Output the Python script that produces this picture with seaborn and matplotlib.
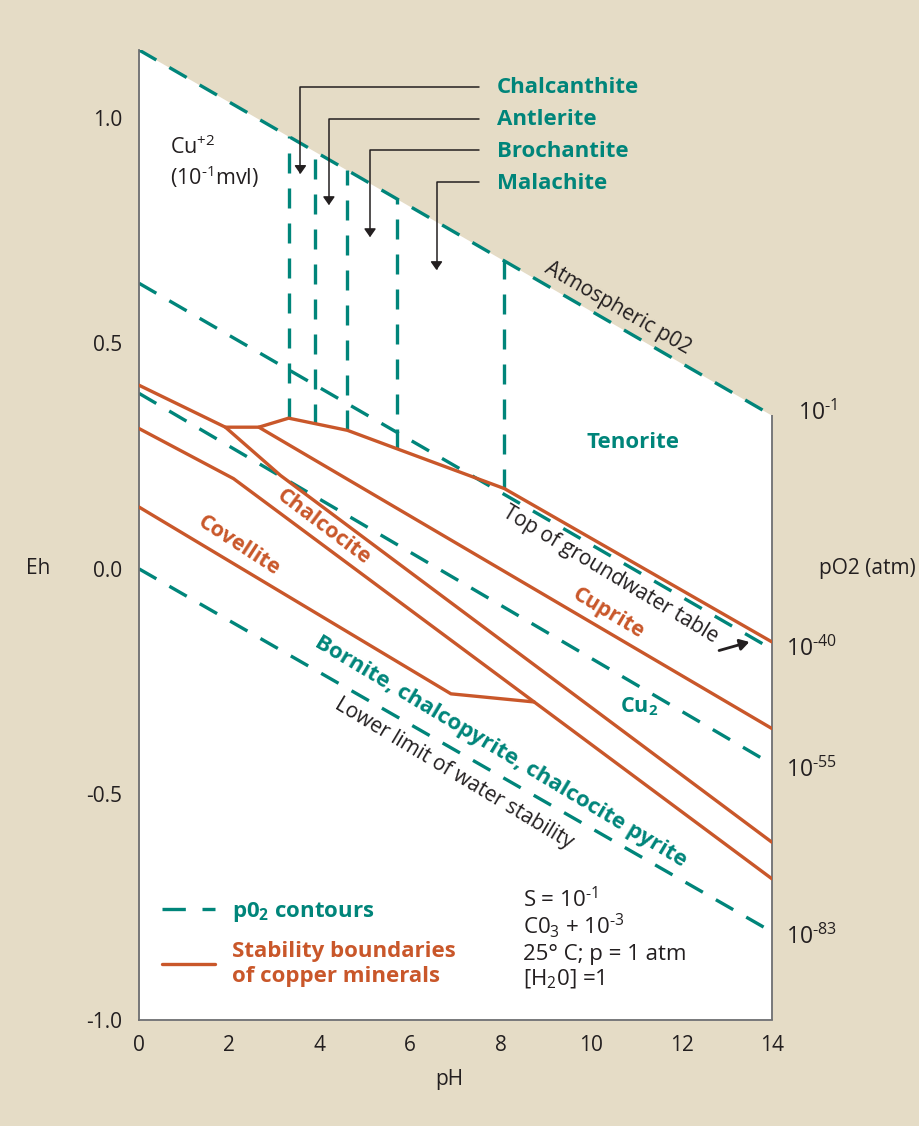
import numpy as np
import matplotlib
matplotlib.use("Agg")
import matplotlib.pyplot as plt
import seaborn as sns
from matplotlib.lines import Line2D

# ---- values (pH, Eh in volts) ----
atm_ph = [0, 14]
atm_eh = [1.15, 0.34]
groundwater_ph = [0, 14]
groundwater_eh = [0.633, -0.178]
contour55_ph = [0, 14]
contour55_eh = [0.389, -0.433]
contour83_ph = [0, 13.92]
contour83_eh = [0.0, -0.80]

tenorite_ph = [0, 1.91, 2.65, 3.31, 4.61, 5.71, 8.08, 14]
tenorite_eh = [0.407, 0.314, 0.314, 0.334, 0.307, 0.266, 0.178, -0.162]
cuprite_ph = [2.65, 14]
cuprite_eh = [0.314, -0.354]
chalcocite_ph = [1.91, 3.13, 14]
chalcocite_eh = [0.314, 0.207, -0.606]
lower_ph = [0, 2.09, 8.74, 14]
lower_eh = [0.311, 0.200, -0.295, -0.687]
covellite_ph = [0, 6.9, 8.74]
covellite_eh = [0.137, -0.277, -0.295]

# sulphate / carbonate field limits
field_ph = [3.31, 3.89, 4.61, 5.71, 8.08]
minerals = ["Chalcanthite", "Antlerite", "Brochantite", "Malachite"]
mineral_eh = [1.054, 0.983, 0.913, 0.843]
arrow_ph = [3.57, 4.20, 5.11, 6.58]
arrow_eh = [0.875, 0.806, 0.735, 0.662]

HY = "\u2010"  # short hyphen for the exponents
po2_labels = [f"10$^{{{HY}1}}$", f"10$^{{{HY}40}}$", f"10$^{{{HY}55}}$", f"10$^{{{HY}83}}$"]
po2_ph = [14.57, 14.31, 14.31, 14.31]
po2_eh = [0.331, -0.192, -0.462, -0.831]

conditions = [f"S = 10$^{{{HY}1}}$", f"C0$_3$ + 10$^{{{HY}3}}$", "25° C; p = 1 atm", "[H$_2$0] =1"]
conditions_eh = [-0.751, -0.808, -0.868, -0.923]

BEIGE = "#e5dcc6"
TEAL = "#00857a"
ORANGE = "#c9572a"
INK = "#231f20"
GREY = "#6d6e71"
DASH = (0, (6, 4.5))

sns.set_theme(style="white")
plt.rcParams["font.family"] = ["Open Sans", "DejaVu Sans"]
plt.rcParams["mathtext.fontset"] = "custom"
plt.rcParams["mathtext.rm"] = "Open Sans"
plt.rcParams["mathtext.bf"] = "Open Sans:bold"
plt.rcParams["mathtext.default"] = "regular"
plt.rcParams["axes.unicode_minus"] = False

fig = plt.figure(figsize=(9.2, 11.26), dpi=100, facecolor=BEIGE)
ax = fig.add_axes([0.1511, 0.0941, 0.688, 0.8615])
ax.set_facecolor(BEIGE)
ax.fill_between(atm_ph, -1.0, atm_eh, color="white", lw=0, zorder=0.5)

# pO2 contours
for xs, ys in [(atm_ph, atm_eh), (groundwater_ph, groundwater_eh),
               (contour55_ph, contour55_eh), (contour83_ph, contour83_eh)]:
    sns.lineplot(x=xs, y=ys, color=TEAL, lw=2.4, linestyle=DASH,
                 sort=False, estimator=None, ax=ax, zorder=2)

tops = np.interp(field_ph, atm_ph, atm_eh)
bottoms = np.interp(field_ph, tenorite_ph, tenorite_eh)
ax.vlines(field_ph, bottoms, tops, colors=TEAL, lw=2.4, linestyles=DASH, zorder=2)

# copper mineral stability boundaries
for xs, ys in [(tenorite_ph, tenorite_eh), (cuprite_ph, cuprite_eh),
               (chalcocite_ph, chalcocite_eh), (lower_ph, lower_eh),
               (covellite_ph, covellite_eh)]:
    sns.lineplot(x=xs, y=ys, color=ORANGE, lw=2.4,
                 sort=False, estimator=None, ax=ax, zorder=3)

ax.set_xlim(0, 14)
ax.set_ylim(-1.0, 1.15)
ax.set_xticks(range(0, 15, 2))
ax.set_yticks([-1.0, -0.5, 0.0, 0.5, 1.0])
ax.set_yticklabels([f"{v:.1f}" for v in [-1.0, -0.5, 0.0, 0.5, 1.0]])
ax.tick_params(direction="in", length=7, width=1, color=GREY,
               labelcolor=INK, labelsize=15)
ax.tick_params(axis="x", pad=11)
ax.tick_params(axis="y", pad=12)
for side in ["top", "right"]:
    ax.spines[side].set_visible(False)
for side in ["left", "bottom"]:
    ax.spines[side].set_color(GREY)
    ax.spines[side].set_linewidth(1.3)
ax.vlines(14, -1.0, atm_eh[-1], colors=GREY, lw=1.3, clip_on=False, zorder=2.5)

ax.set_xlabel("pH", fontsize=15, color=INK)
ax.xaxis.set_label_coords(0.49, -0.05)
ax.set_ylabel("Eh", fontsize=15, color=INK, rotation=0, va="center", ha="center")
ax.yaxis.set_label_coords(-0.159, 0.465)

# mineral labels with bent arrows
for name, ly, tx, ty in zip(minerals, mineral_eh, arrow_ph, arrow_eh):
    ax.annotate(name, xy=(tx, ty), xytext=(7.92, ly), textcoords="data",
                ha="left", va="baseline", fontsize=16, fontweight="bold", color=TEAL,
                annotation_clip=False,
                arrowprops=dict(arrowstyle="-|>,head_length=0.5,head_width=0.35",
                                mutation_scale=10, color=INK, lw=1.1,
                                connectionstyle="angle,angleA=180,angleB=90,rad=0",
                                shrinkA=11, shrinkB=0, relpos=(0, 0.55)))

ax.text(0.69, 0.919, "Cu$^{+2}$", fontsize=15.5, color=INK, va="baseline")
ax.text(0.69, 0.850, f"(10$^{{{HY}1}}$mvl)", fontsize=15.5, color=INK, va="baseline")
ax.text(10.92, 0.281, "Tenorite", fontsize=16, fontweight="bold", color=TEAL,
        ha="center", va="center")
ax.text(10.58, 0.578, "Atmospheric p02", fontsize=15, color=INK, rotation=-30,
        rotation_mode="anchor", ha="center", va="center")
ax.text(10.43, -0.012, "Top of groundwater table", fontsize=15, color=INK, rotation=-31,
        rotation_mode="anchor", ha="center", va="center")
ax.annotate("", xy=(13.50, -0.162), xytext=(12.83, -0.181),
            arrowprops=dict(arrowstyle="-|>,head_length=0.5,head_width=0.3",
                            mutation_scale=11, color=INK, lw=2, shrinkA=0, shrinkB=0))
ax.text(10.38, -0.098, "Cuprite", fontsize=15.5, fontweight="bold", color=ORANGE,
        rotation=-31, rotation_mode="anchor", ha="center", va="center")
ax.text(11.05, -0.305, "Cu$_2$", fontsize=15.5, fontweight="bold", color=TEAL,
        ha="center", va="center")
ax.text(4.08, 0.093, "Chalcocite", fontsize=15.5, fontweight="bold", color=ORANGE,
        rotation=-37, rotation_mode="anchor", ha="center", va="center")
ax.text(2.20, 0.052, "Covellite", fontsize=15.5, fontweight="bold", color=ORANGE,
        rotation=-33, rotation_mode="anchor", ha="center", va="center")
ax.text(8.0, -0.406, "Bornite, chalcopyrite, chalcocite pyrite", fontsize=16,
        fontweight="bold", color=TEAL, rotation=-31, rotation_mode="anchor",
        ha="center", va="center")
ax.text(6.96, -0.454, "Lower limit of water stability", fontsize=15, color=INK,
        rotation=-31, rotation_mode="anchor", ha="center", va="center")

# right-hand pO2 scale
for lab, x, y in zip(po2_labels, po2_ph, po2_eh):
    ax.text(x, y, lab, fontsize=16.5, color=INK, va="baseline", clip_on=False)
ax.text(15.03, -0.011, "pO2 (atm)", fontsize=15, color=INK, va="baseline", clip_on=False)

for line, y in zip(conditions, conditions_eh):
    ax.text(8.50, y, line, fontsize=16, color=INK, va="baseline")

handles = [Line2D([], [], color=TEAL, lw=2.4, linestyle=(0, (7, 5))),
           Line2D([], [], color=ORANGE, lw=2.4)]
leg = ax.legend(handles, ["p0$_2$ contours", "Stability boundaries\nof copper minerals"],
                loc="upper left", bbox_to_anchor=(0.036, 0.124), frameon=False,
                prop={"weight": "bold", "size": 16}, labelcolor=[TEAL, ORANGE],
                handlelength=2.4, handletextpad=0.75, labelspacing=0.78,
                borderpad=0, borderaxespad=0)
leg.get_texts()[1].set_linespacing(1.27)

fig.savefig("out.png", dpi=100, facecolor=BEIGE)
